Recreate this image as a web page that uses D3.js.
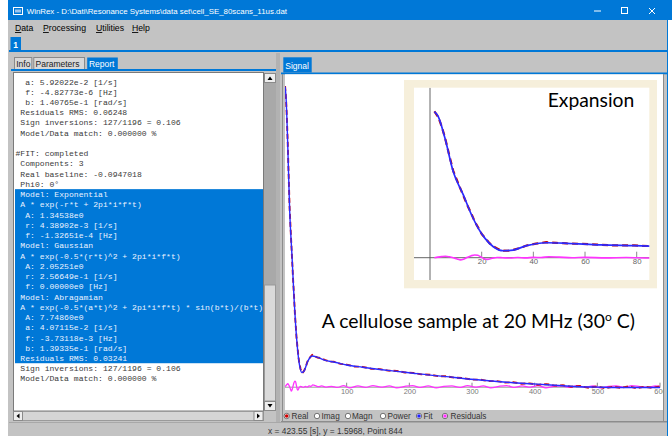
<!DOCTYPE html>
<html><head><meta charset="utf-8">
<script src="https://cdn.jsdelivr.net/npm/d3@7"></script>
<style>body{margin:0;background:#fff;overflow:hidden}svg{display:block}</style>
</head><body><svg id="c" width="672" height="436"></svg>
<script>
// ---------- data ----------
const fitTime = [1.7,3.2,5.8,9.0,12.9,16.1,18.7,21.3,24.5,28.4,32.2,37.4,45,53,66,79,100,125,153,180,206,233,259,286,313,340,366,392,419,445,472,500,525,550,575,600];
const fitValues = [80.0,77.3,65.4,47.1,34.4,23.4,16.1,10.6,6.0,3.8,4.2,6.6,8.2,7.9,7.0,6.6,5.8,5.2,4.6,4.1,3.6,3.1,2.7,2.2,1.8,1.4,1.07,0.8,0.53,0.25,0.0,-0.1,-0.2,-0.2,-0.2,-0.2];
const realTime = [1.7,3.2,4.5,5.8,7.4,9.0,11,12.9,14.5,16.1,17.4,18.7,20,21.3,23,24.5,26.5,28.4,30.3,32.2,34.8,37.4,41,45,49,53,59,66,72,79,90,100,112,125,139,153,166,180,193,206,219,233,246,259,272,286,299,313,326,340,353,366,379,392,405,419,432,445,458,472,486,500,512,525,537,550,562,575,587,600];
const realValues = [80.2,77.0,72.0,65.8,56.5,47.6,40.5,34.0,28.6,23.9,19.5,16.4,13.0,10.9,8.0,6.2,4.7,3.9,3.8,4.3,5.3,6.7,7.7,8.5,8.1,7.8,7.6,7.1,6.7,6.7,6.1,5.9,5.4,5.3,4.8,4.7,4.3,4.2,3.8,3.7,3.3,3.2,2.8,2.8,2.4,2.3,1.9,1.9,1.5,1.5,1.1,1.2,0.8,0.9,0.5,0.7,0.3,0.4,0.0,0.2,-0.3,0.1,-0.4,0.0,-0.3,0.1,-0.4,0.0,-0.3,0.1];
const residualTime = [1.7,3,4.5,6,7.5,9,10.5,11.8,13,14.5,16,17.3,18.5,19.7,21,22.3,24,26,28,31,34,37,40,43,46,50,55,60,68,76,85,95,105,118,130,142,155,168,180,193,205,218,230,243,255,268,280,293,305,318,330,343,355,368,380,393,405,418,430,443,455,468,480,493,505,518,530,543,555,568,580,593,600];
const residualValues = [0,0.3,0.6,0.8,0.5,0.0,-0.7,-1.2,-0.8,0.2,1.1,1.5,1.3,0.4,-0.6,-0.9,-0.3,0.1,0.0,-0.2,0.1,-0.1,0.2,0.1,0.5,0.3,0.0,0.2,-0.1,0.1,-0.2,0.3,-0.3,0.2,-0.2,0.3,-0.1,0.2,-0.3,0.1,0.3,-0.2,0.2,-0.3,0.1,0.2,-0.2,0.3,-0.1,0.2,-0.3,0.1,0.3,-0.2,0.2,-0.1,0.3,-0.3,0.1,0.2,-0.2,0.3,-0.1,0.2,-0.3,0.1,0.2,-0.2,0.3,0.0,-0.2,0.2,0.0];
const mainTicks = [100,200,300,400,500,600];
const insetTicks = [20,40,60,80];
const menuItems = ["Data","Processing","Utilities","Help"];
const reportTabs = ["Info","Parameters","Report"];
const reportLines = [
"  a: 5.92022e-2 [1/s]",
"  f: -4.82773e-6 [Hz]",
"  b: 1.40765e-1 [rad/s]",
" Residuals RMS: 0.06248",
" Sign inversions: 127/1196 = 0.106",
" Model/Data match: 0.000000 %",
"",
"#FIT: completed",
" Components: 3",
" Real baseline: -0.0947018",
" Phi0: 0°",
" Model: Exponential",
" A * exp(-r*t + 2pi*i*f*t)",
"  A: 1.34538e0",
"  r: 4.38902e-3 [1/s]",
"  f: -1.32651e-4 [Hz]",
" Model: Gaussian",
" A * exp(-0.5*(r*t)^2 + 2pi*i*f*t)",
"  A: 2.05251e0",
"  r: 2.56649e-1 [1/s]",
"  f: 0.00000e0 [Hz]",
" Model: Abragamian",
" A * exp(-0.5*(a*t)^2 + 2pi*i*f*t) * sin(b*t)/(b*t)",
"  A: 7.74860e0",
"  a: 4.07115e-2 [1/s]",
"  f: -3.73118e-3 [Hz]",
"  b: 1.39335e-1 [rad/s]",
" Residuals RMS: 0.03241",
" Sign inversions: 127/1196 = 0.106",
" Model/Data match: 0.000000 %"
];
const selectedFirst = 11, selectedLast = 27;
const radioLabels = ["Real","Imag","Magn","Power","Fit","Residuals"];
const radioDots = ["#d00000",null,null,null,"#2020ff","#ff30ff"];
const titleText = "WinRex - D:\\Dati\\Resonance Systems\\data set\\cell_SE_80scans_11us.dat";
const statusText = "x = 423.55 [s], y = 1.5968, Point 844";

// ---------- drawing ----------
const svg = d3.select("#c");
const BLUE = "#0078d7", GRAY = "#c3c3c3";
const R = (x,y,w,h,f,s) => { const r = svg.append("rect").attr("x",x).attr("y",y).attr("width",w).attr("height",h).attr("fill",f); if(s) r.attr("stroke",s).attr("stroke-width",1); return r; };
const L = (x1,y1,x2,y2,c,w) => svg.append("line").attr("x1",x1).attr("y1",y1).attr("x2",x2).attr("y2",y2).attr("stroke",c).attr("stroke-width",w||1);
const T = (x,y,s,size,fill,fam) => svg.append("text").attr("x",x).attr("y",y).text(s).attr("font-size",size).attr("fill",fill||"#000").attr("font-family",fam||"'Liberation Sans', Arial, sans-serif");

// window background
R(8,0,660,436,GRAY);
R(8,0,664,20,BLUE);
L(667.5,20,667.5,436,BLUE,1);
// title icon
R(13.5,7.5,9,7,"none","#fff");
R(15,9.5,6,3,"#9ec6ee");
T(26.7,14.3,titleText,7.9,"#fff");
// window controls
L(594,11,601,11,"#fff",1);
R(621.5,7.5,6,6,"none","#fff");
L(649,8,655,14,"#fff",1); L(655,8,649,14,"#fff",1);

// menu
const menuX = [15,43,96,132];
menuItems.forEach((m,i)=>{
  const t = svg.append("text").attr("x",menuX[i]).attr("y",31).attr("font-size",8.7).attr("font-family","'Liberation Sans', Arial, sans-serif").attr("fill","#000");
  t.append("tspan").attr("text-decoration","underline").text(m[0]);
  t.append("tspan").text(m.slice(1));
});
// doc tab "1"
R(10.5,37,10.5,13.5,BLUE);
T(13.2,47.5,"1",8.5,"#fff").attr("font-weight","bold");
R(9,50,658,2,BLUE);

// ---------- left panel ----------
const tabX = [[14,32.3],[33.3,85],[86.7,118.3]];
reportTabs.forEach((t,i)=>{
  const [a,b] = tabX[i];
  const sel = i===2;
  R(a+0.5,57+0.5,b-a-1,12,sel?BLUE:"#d9d9d9",sel?null:"#8a8a8a");
  T(a+2.2,66.8,t,8.5,sel?"#fff":"#222");
});
R(11,69,267,2,BLUE);
// text area
R(13.5,72.5,250,338.5,"#fff","#7a7a7a");
// selection highlight
const lineY0 = 81.7, lineH = 10.24;
R(15,lineY0+lineH*selectedFirst-5.2,248,lineH*(selectedLast-selectedFirst+1),BLUE);
svg.append("clipPath").attr("id","txtclip").append("rect").attr("x",14).attr("y",73).attr("width",249).attr("height",337);
const tg = svg.append("g").attr("clip-path","url(#txtclip)");
tg.selectAll("text").data(reportLines).join("text")
  .attr("x",15.5).attr("y",(d,i)=>lineY0+lineH*i+2.8)
  .attr("font-family","'Liberation Mono', 'DejaVu Sans Mono', monospace").attr("font-size",8.1)
  .style("white-space","pre").attr("xml:space","preserve")
  .attr("fill",(d,i)=> (i>=selectedFirst && i<=selectedLast) ? "#eaf2ff" : "#3a3a3a")
  .text(d=>d);
// vertical scrollbar
R(264,73,12,338,"#a9a9a9");
R(264.5,285,11,116,"#dadada","#9a9a9a");
R(264.5,73.5,11,9,"#eeeeee","#8a8a8a");
svg.append("path").attr("d","M267.5,80 L270,76.5 L272.5,80 Z").attr("fill","#000");
R(264.5,401.5,11,9,"#eeeeee","#8a8a8a");
svg.append("path").attr("d","M267.5,404 L270,407.5 L272.5,404 Z").attr("fill","#000");
// horizontal scrollbar
R(13.5,411.5,250,9,"#d5d5d5","#9a9a9a");
R(13.5,411.5,9,9,"#eeeeee","#8a8a8a");
svg.append("path").attr("d","M19.5,413.5 L16.5,416 L19.5,418.5 Z").attr("fill","#000");
R(254,411.5,9,9,"#eeeeee","#8a8a8a");
svg.append("path").attr("d","M257,413.5 L260,416 L257,418.5 Z").attr("fill","#000");
// splitter
R(276,53,4,369,"#b2b2b2");

// ---------- right panel ----------
R(283.3,57.3,28.4,15.2,BLUE);
T(285.3,68.5,"Signal",8.5,"#fff");
R(281,72.5,386,1.8,BLUE);
R(285,74.3,378,335.7,"#fff");
L(282.5,74,282.5,421,"#8c8c8c",1);
L(663.5,74,663.5,421,"#8c8c8c",1);
L(281,421.5,667,421.5,"#8c8c8c",1);

// main plot scales
const xMain = d3.scaleLinear().domain([0,600]).range([284,660]);
const yMain = d3.scaleLinear().domain([0,80]).range([386.7,86.7]);
svg.append("clipPath").attr("id","mainclip").append("rect").attr("x",285).attr("y",74.3).attr("width",378).attr("height",335.7);
const mg = svg.append("g").attr("clip-path","url(#mainclip)");
// axis
const axMain = d3.axisBottom(xMain).tickValues(mainTicks).tickSize(0).tickPadding(2.5);
const ag = mg.append("g").attr("transform",`translate(0,${yMain(0)})`).call(axMain);
ag.select(".domain").attr("stroke","#9a9a9a");
ag.selectAll("text").attr("font-size",7.4).attr("fill","#7a7a7a").attr("font-family","'Liberation Sans', Arial, sans-serif").attr("dy","0.71em");
mg.selectAll("line.mt").data(mainTicks).join("line").attr("class","mt")
  .attr("x1",d=>xMain(d)).attr("x2",d=>xMain(d)).attr("y1",yMain(0)-4).attr("y2",yMain(0)).attr("stroke","#888");

const idx = arr => arr.map((d,i)=>i);
function drawSeries(g, xs, ys, times, vals, color, width, curve, opacity, dash){
  const line = d3.line().x(i=>xs(times[i])).y(i=>ys(vals[i])).curve(curve);
  const p = g.append("path").attr("d",line(idx(times))).attr("fill","none").attr("stroke",color).attr("stroke-width",width).attr("stroke-opacity",opacity||1).attr("stroke-linejoin","round");
  if(dash) p.attr("stroke-dasharray",dash);
}
drawSeries(mg,xMain,yMain,residualTime,residualValues,"#ff33ff",1.3,d3.curveMonotoneX);
drawSeries(mg,xMain,yMain,realTime,realValues,"#d01010",1.9,d3.curveLinear,1,"5,3");
drawSeries(mg,xMain,yMain,fitTime,fitValues,"#2a2aff",1.4,d3.curveMonotoneX,1);

// ---------- inset ----------
R(404,80,253,208.3,"#f6efdb");
R(414,87.7,235.3,192.3,"#fff");
const xIn = d3.scaleLinear().domain([0,80]).range([430,636.7]);
const yIn = d3.scaleLinear().domain([0,80]).range([257.7,111.7]);
svg.append("clipPath").attr("id","inclip").append("rect").attr("x",414).attr("y",87.7).attr("width",235.3).attr("height",192.3);
const ig = svg.append("g").attr("clip-path","url(#inclip)");
ig.append("line").attr("x1",xIn(0)).attr("x2",xIn(0)).attr("y1",87.7).attr("y2",280).attr("stroke","#555").attr("stroke-width",0.9);
const axIn = d3.axisBottom(xIn).tickValues(insetTicks).tickSize(0).tickPadding(0.5);
const aig = ig.append("g").attr("transform",`translate(0,${yIn(0)})`).call(axIn);
aig.select(".domain").remove();
ig.append("line").attr("x1",414).attr("x2",649.3).attr("y1",yIn(0)).attr("y2",yIn(0)).attr("stroke","#555").attr("stroke-width",0.9);
aig.selectAll("text").attr("font-size",7.8).attr("fill","#666").attr("font-family","'Liberation Sans', Arial, sans-serif").attr("dy","0.71em");
ig.selectAll("line.it").data(insetTicks).join("line").attr("class","it")
  .attr("x1",d=>xIn(d)).attr("x2",d=>xIn(d)).attr("y1",yIn(0)-6).attr("y2",yIn(0)).attr("stroke","#888");
drawSeries(ig,xIn,yIn,residualTime,residualValues,"#ff33ff",1.6,d3.curveMonotoneX);
drawSeries(ig,xIn,yIn,realTime,realValues,"#c01010",2.2,d3.curveLinear,1,"6,4");
drawSeries(ig,xIn,yIn,fitTime,fitValues,"#2a2aff",1.7,d3.curveMonotoneX,1);
T(547.7,106.7,"Expansion",19,"#000","Lato, 'Open Sans', sans-serif").attr("textLength",86.6).attr("lengthAdjust","spacingAndGlyphs");

// caption
const cap = T(321.7,328.3,"",19.4,"#000","Lato, 'Open Sans', sans-serif");
cap.append("tspan").text("A cellulose sample at 20 MHz (30");
cap.append("tspan").attr("dy",-7).attr("font-size",12).text("o");
cap.append("tspan").attr("dy",7).text(" C)");

// ---------- radio row ----------
const radioX = [286.7,317,348,383,419,445];
const textX = [291.5,321.5,352,387.5,423.5,450.5];
radioLabels.forEach((r,i)=>{
  svg.append("circle").attr("cx",radioX[i]).attr("cy",416).attr("r",2.7).attr("fill","#fff").attr("stroke","#555").attr("stroke-width",0.8);
  if(radioDots[i]) svg.append("circle").attr("cx",radioX[i]).attr("cy",416).attr("r",1.8).attr("fill",radioDots[i]);
  T(textX[i],419,r,8.2,"#333");
});

// ---------- status bar ----------
L(9,422.5,667,422.5,"#a8a8a8",1);
T(268,434.2,statusText,8.4,"#333");
</script></body></html>
